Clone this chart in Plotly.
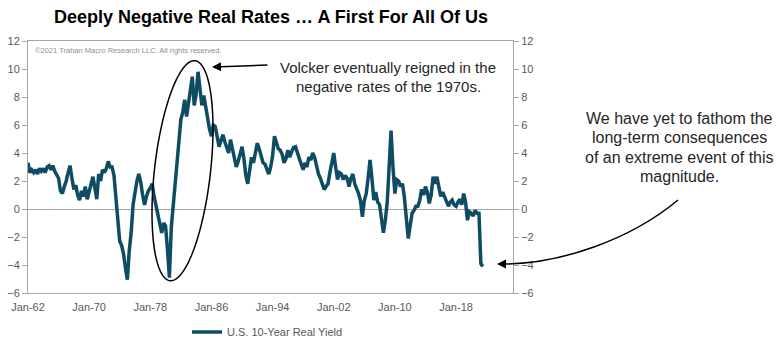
import numpy as np
import pandas as pd
import plotly.graph_objects as go

# ---------------- data (quarterly) ----------------
start_date = "1962-01-01"
real_yield = [
    3.3, 2.6, 2.8, 2.6,     # 1962
    2.8, 2.5, 2.9, 2.7,     # 1963
    2.9, 2.6, 3.0, 3.1,     # 1964
    2.8, 3.1, 2.7, 2.5,     # 1965
    2.2, 1.3, 1.1, 1.6,     # 1966
    2.0, 2.6, 3.1, 2.2,     # 1967
    1.4, 1.7, 1.0, 0.64,    # 1968
    1.3, 0.9, 1.6, 0.7,     # 1969
    1.2, 1.7, 2.3, 1.5,     # 1970
    0.7, 2.5, 2.0, 2.8,     # 1971
    2.6, 2.9, 3.4, 3.0,     # 1972
    3.0, 2.4, 1.0, -0.4,    # 1973
    -2.3, -2.6, -3.2, -4.2, # 1974
    -5.05, -3.0, -1.7, 0.3, # 1975
    1.2, 2.0, 2.5, 1.9,     # 1976
    1.0, 0.3, 0.9, 1.3,     # 1977
    1.5, 1.8, 0.9, 0.2,     # 1978
    -0.6, -1.3, -1.7, -1.0, # 1979
    -1.2, -2.9, -4.9, -1.3, # 1980
    0.4, 1.5, 3.3, 5.2,     # 1981
    6.4, 6.9, 7.8, 6.6,     # 1982
    7.6, 8.6, 9.45, 7.4,    # 1983
    8.2, 9.8, 8.4, 7.4,     # 1984
    8.1, 7.2, 6.4, 5.7,     # 1985
    5.2, 6.0, 5.9, 5.0,     # 1986
    4.45, 4.9, 5.3, 4.8,    # 1987
    4.4, 4.0, 4.95, 4.3,    # 1988
    3.8, 3.0, 3.4, 3.9,     # 1989
    4.45, 3.6, 2.4, 1.8,    # 1990
    2.6, 3.7, 3.3, 4.0,     # 1991
    4.7, 4.3, 3.8, 3.3,     # 1992
    3.2, 2.9, 2.5, 3.0,     # 1993
    3.8, 5.2, 4.8, 4.3,     # 1994
    4.2, 3.9, 3.3, 3.6,     # 1995
    4.2, 3.7, 4.1, 4.4,     # 1996
    4.45, 4.1, 3.6, 3.2,    # 1997
    2.8, 3.3, 3.0, 3.7,     # 1998
    3.5, 4.0, 3.7, 3.1,     # 1999
    2.5, 2.2, 1.8, 1.4,     # 2000
    1.6, 1.8, 2.6, 3.2,     # 2001
    4.0, 3.0, 2.1, 2.6,     # 2002
    2.5, 2.1, 2.4, 2.2,     # 2003
    1.6, 2.2, 2.5, 1.8,     # 2004
    1.5, 1.1, 0.6, -0.55,   # 2005
    0.6, 1.1, 2.2, 3.5,     # 2006
    2.2, 0.64, 1.2, 0.5,    # 2007
    0.3, -0.6, -1.7, -0.8,  # 2008
    0.5, 3.0, 5.6, 3.0,     # 2009
    1.1, 2.1, 2.0, 1.6,     # 2010
    1.8, 0.8, -0.6, -2.1,   # 2011
    -1.2, -0.3, -0.1, 0.2,  # 2012
    0.2, 0.6, 1.4, 1.0,     # 2013
    1.6, 1.2, 0.4, 1.0,     # 2014
    2.3, 1.8, 2.3, 1.7,     # 2015
    0.9, 1.2, 0.9, 0.6,     # 2016
    0.2, 0.5, 0.64, 0.3,    # 2017
    0.2, 0.5, 0.7, 0.3,     # 2018
    1.1, 0.5, -0.8, -0.2,   # 2019
    -0.3, -0.5, -0.1, -0.3, # 2020
    -0.3, -3.9, -4.1,       # 2021
]
dates = pd.date_range(start_date, periods=len(real_yield), freq="QS")

tick_dates = ["1962-01-01", "1970-01-01", "1978-01-01", "1986-01-01",
              "1994-01-01", "2002-01-01", "2010-01-01", "2018-01-01"]
tick_text = ["Jan-62", "Jan-70", "Jan-78", "Jan-86", "Jan-94", "Jan-02", "Jan-10", "Jan-18"]
y_ticks = [-6, -4, -2, 0, 2, 4, 6, 8, 10, 12]

series_name = "U.S. 10-Year Real Yield"
title_text = "Deeply Negative Real Rates … A First For All Of Us"
copyright_text = "©2021 Trahan Macro Research LLC. All rights reserved."
note1_lines = ["Volcker eventually reigned in the", "negative rates of the 1970s."]
note2_lines = ["We have yet to fathom the", "long-term consequences",
               "of an extreme event of this", "magnitude."]

# ---------------- layout geometry ----------------
W, H = 781, 350
L, R, T, B = 28, 268, 41, 57
PW, PH = W - L - R, H - T - B
FONT = "Arial, Liberation Sans, sans-serif"
LINE_COLOR = "#0e4c64"
AXIS_COLOR = "#a6a6a6"
TICK_FONT_COLOR = "#595959"
NOTE_COLOR = "#262626"


def px(x):
    return (x - L) / PW


def py(y):
    return (H - B - y) / PH


fig = go.Figure()
fig.add_trace(go.Scatter(x=dates, y=real_yield, mode="lines", name=series_name,
                         line=dict(color=LINE_COLOR, width=3.5)))
fig.add_trace(go.Scatter(x=dates, y=real_yield, mode="lines", yaxis="y2",
                         showlegend=False, hoverinfo="skip",
                         line=dict(color="rgba(0,0,0,0)", width=0)))

axis_common = dict(range=[-6, 12], tickvals=y_ticks, showgrid=False,
                   showline=True, linecolor=AXIS_COLOR, linewidth=1,
                   ticks="outside", ticklen=5, tickcolor=AXIS_COLOR,
                   tickfont=dict(family=FONT, size=11, color=TICK_FONT_COLOR))

fig.update_layout(
    width=W, height=H,
    margin=dict(l=L, r=R, t=T, b=B, autoexpand=False),
    paper_bgcolor="white", plot_bgcolor="white",
    font=dict(family=FONT),
    title=dict(text="<b>" + title_text + "</b>", xref="container", x=271 / W,
               xanchor="center", y=1 - 17 / H, yanchor="middle",
               font=dict(family=FONT, size=18, color="black")),
    xaxis=dict(type="date", range=["1962-01-01", "2025-06-15"],
               tickvals=tick_dates, ticktext=tick_text, showgrid=False,
               showline=True, linecolor=AXIS_COLOR, mirror=True, ticks="",
               ticklabelstandoff=4,
               tickfont=dict(family=FONT, size=11, color=TICK_FONT_COLOR)),
    yaxis=dict(**axis_common, zeroline=True, zerolinecolor=AXIS_COLOR, zerolinewidth=1),
    yaxis2=dict(**axis_common, overlaying="y", side="right", zeroline=False),
    legend=dict(orientation="h", x=px(187), xanchor="left",
                y=py(332), yanchor="middle",
                font=dict(family=FONT, size=11, color=TICK_FONT_COLOR),
                itemwidth=30, bgcolor="rgba(0,0,0,0)"),
    showlegend=True,
)

# copyright
fig.add_annotation(text=copyright_text, xref="paper", yref="paper",
                   x=px(33), y=py(50), xanchor="left", yanchor="middle",
                   showarrow=False, font=dict(family=FONT, size=7.5, color="#8f8f8f"))

# note 1 (one annotation per line for exact spacing)
for i, line in enumerate(note1_lines):
    fig.add_annotation(text=line, xref="paper", yref="paper",
                       x=px(388), y=py(68 + 18 * i), xanchor="center", yanchor="middle",
                       showarrow=False, font=dict(family=FONT, size=15, color=NOTE_COLOR))
# note 2
for i, line in enumerate(note2_lines):
    fig.add_annotation(text=line, xref="paper", yref="paper",
                       x=px(679), y=py(118 + 19.5 * i), xanchor="center", yanchor="middle",
                       showarrow=False, font=dict(family=FONT, size=16, color=NOTE_COLOR))

# arrow 1 (text -> ellipse)
fig.add_annotation(text="", xref="paper", yref="paper",
                   x=px(212), y=py(67), ax=57, ay=-2,
                   showarrow=True, arrowhead=2, arrowsize=1.2, arrowwidth=1.5,
                   arrowcolor="black")

# ellipse around the Volcker period (tilted)
cx, cy = 182.5, 170.7
a, b = 110.7, 28.0
u = np.array([25.0, -220.0]); u = u / np.linalg.norm(u)
v = np.array([-u[1], u[0]])
t = np.linspace(0, 2 * np.pi, 120)
ex = cx + a * np.cos(t) * u[0] + b * np.sin(t) * v[0]
ey = cy + a * np.cos(t) * u[1] + b * np.sin(t) * v[1]
ell_path = "M " + " L ".join(f"{px(xx):.5f},{py(yy):.5f}" for xx, yy in zip(ex, ey)) + " Z"
fig.add_shape(type="path", path=ell_path, xref="paper", yref="paper",
              line=dict(color="black", width=1.5))

# curved arrow 2 (note -> latest value)
P0, C1, C2, P3 = (678, 200), (630, 240), (560, 264), (503, 264)


def pp(p):
    return f"{px(p[0]):.5f},{py(p[1]):.5f}"


curve = f"M {pp(P0)} C {pp(C1)} {pp(C2)} {pp(P3)}"
fig.add_shape(type="path", path=curve, xref="paper", yref="paper",
              line=dict(color="black", width=1.5))
fig.add_annotation(text="", xref="paper", yref="paper",
                   x=px(497), y=py(264), ax=10, ay=0,
                   showarrow=True, arrowhead=2, arrowsize=1.2, arrowwidth=1.5,
                   arrowcolor="black")

fig.write_html("out.html")
